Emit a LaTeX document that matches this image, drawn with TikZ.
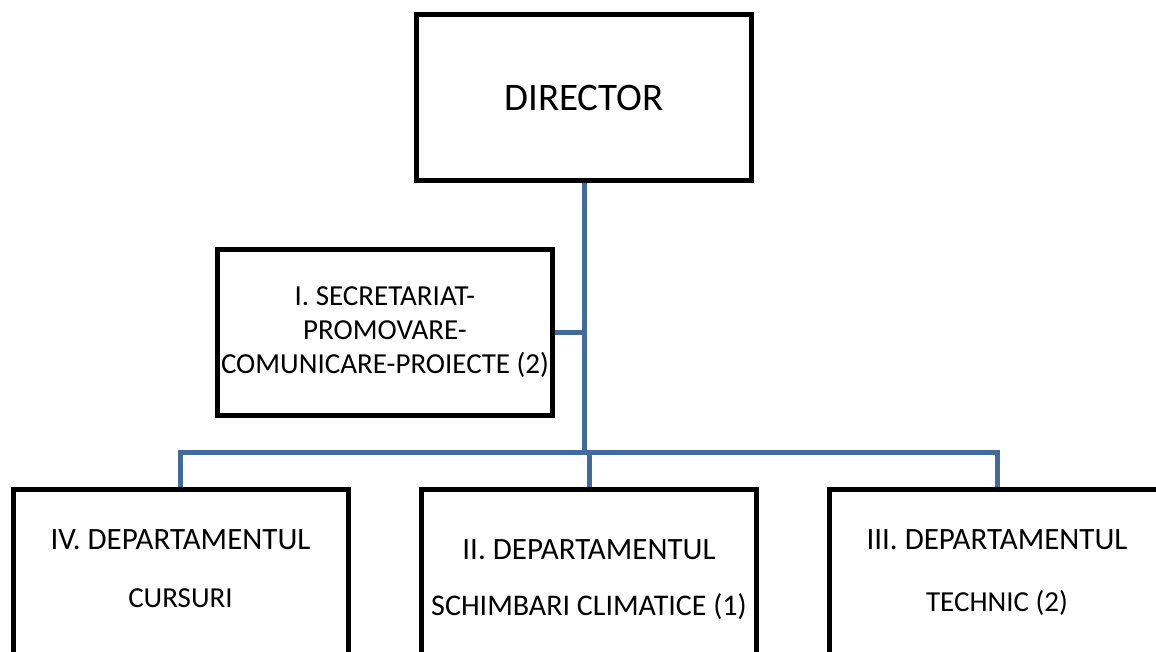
\documentclass[tikz,border=0pt]{standalone}
\usepackage{fontspec}
\setmainfont{Carlito}
\usetikzlibrary{positioning,calc}
\definecolor{linkblue}{RGB}{68,106,156}

\begin{document}
\begin{tikzpicture}[x=1pt,y=-1pt,
    box/.style={draw, line width=5pt, minimum width=335pt, minimum height=166pt,
        align=center, inner sep=0pt},
    deptbox/.style={box, font=\fontsize{31}{31}\selectfont},
    link/.style={draw=linkblue, line width=5pt}]
    \useasboundingbox (0,0) rectangle (1156,652);
    % boxes
    \node[box, font=\fontsize{39}{46}\selectfont] (director) at (584,98) {DIRECTOR};
    \node[box, font=\fontsize{29}{34}\selectfont] (secretariat) at (385,332.5)
        {I. SECRETARIAT-\\PROMOVARE-\\COMUNICARE-PROIECTE (2)};
    \node[deptbox] (cursuri) at (180.5,572.5)
        {\rule{0pt}{30pt}IV. DEPARTAMENTUL\\[27pt]
         {\fontsize{29}{31}\selectfont CURSURI}\rule[-19pt]{0pt}{19pt}};
    \node[deptbox] (climatice) at (589,572.5)
        {\rule{0pt}{40pt}II. DEPARTAMENTUL\\[25pt]
         {\fontsize{30}{31}\selectfont SCHIMBARI CLIMATICE (1)}\rule[-11pt]{0pt}{11pt}};
    \node[deptbox] (tehnic) at (997,572.5)
        {\rule{0pt}{30pt}III. DEPARTAMENTUL\\[31pt]
         {\fontsize{29}{31}\selectfont TECHNIC (2)}\rule[-15pt]{0pt}{15pt}};
    % connectors
    \coordinate (bus) at (585,452);
    \draw[link] (director.south) -- (director.south |- bus);
    \draw[link] (secretariat.east) -- (secretariat.east -| director.south);
    \draw[link] (cursuri.north) |- (bus) -| (tehnic.north);
    \draw[link] (climatice.north) -- (climatice.north |- bus);
\end{tikzpicture}
\end{document}
